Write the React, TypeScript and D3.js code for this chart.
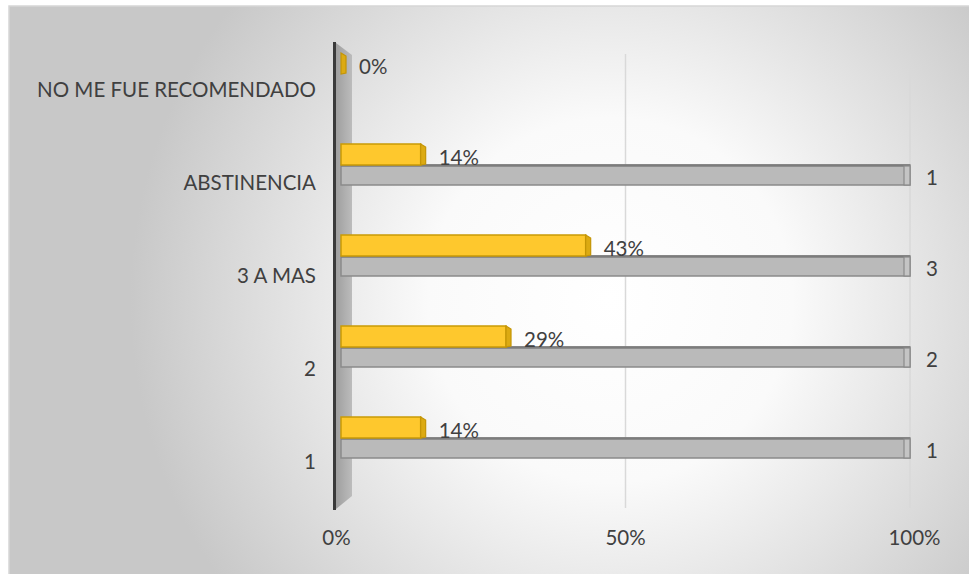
import React from "react";
import * as d3 from "d3";

const categories = ["1", "2", "3 A MAS", "ABSTINENCIA", "NO ME FUE RECOMENDADO"];
const percentValues = [0.14, 0.29, 0.43, 0.14, 0];
const percentLabels = ["14%", "29%", "43%", "14%", "0%"];
const countValues = [1, 2, 3, 1, 0];
const xTicks = [0, 0.5, 1];

const W = 969;
const H = 574;
const FONT = "Lato, 'Liberation Sans', sans-serif";
const FS = 20.5;
const TXT = "#404040";

export default function App() {
  const x = d3.scaleLinear().domain([0, 1]).range([341, 910]);
  const yBar = d3.scalePoint<string>().domain(categories).range([438, 74]);
  const yLab = d3.scalePoint<string>().domain(categories).range([462, 90]);
  const tickFmt = d3.format(".0%");

  return (
    <svg
      width={W}
      height={H}
      style={{ position: "absolute", left: 0, top: 0, display: "block" }}
    >
      <defs>
        <radialGradient id="bg" gradientUnits="userSpaceOnUse" cx={610} cy={300} r={480}>
          <stop offset="0" stopColor="#ffffff" />
          <stop offset="0.38" stopColor="#fafafa" />
          <stop offset="1" stopColor="#c8c8c8" />
        </radialGradient>
        <linearGradient id="wall" x1="0" x2="1" y1="0" y2="0">
          <stop offset="0" stopColor="#9f9f9f" />
          <stop offset="1" stopColor="#bcbcbc" />
        </linearGradient>
      </defs>
      <rect x={0} y={0} width={W} height={H} fill="#ffffff" />
      <rect x={9} y={6} width={W + 10} height={H + 10} fill="url(#bg)" stroke="#d6d6d6" strokeWidth={1.5} />

      {/* gridlines */}
      {xTicks.slice(1).map((t) => (
        <line key={t} x1={x(t)} x2={x(t)} y1={54} y2={508} stroke="#d9d9d9" strokeWidth={1.5} />
      ))}

      {/* wall */}
      <polygon points="336,43 352,55 352,496 336,509" fill="url(#wall)" />
      <line x1={334.5} x2={334.5} y1={42} y2={510} stroke="#3a3a3a" strokeWidth={3} />

      {/* bars */}
      {categories.map((c, i) => {
        const b = yBar(c)!;
        const gv = Math.min(countValues[i], 1);
        const xe = x(gv);
        const ye = x(percentValues[i]);
        return (
          <g key={c}>
            {countValues[i] > 0 && (
              <g>
                <rect x={x(0)} y={b} width={xe - x(0)} height={20} fill="#bababa" stroke="#8a8a8a" strokeWidth={1.5} />
                <line x1={x(0)} x2={xe} y1={b + 0.5} y2={b + 0.5} stroke="#7c7c7c" strokeWidth={2.5} />
                <rect x={xe - 6} y={b + 1} width={6} height={19} fill="#c4c4c4" stroke="#8a8a8a" strokeWidth={1.2} />
                <text x={xe + 16} y={b + 13} dy="0.35em" fontFamily={FONT} fontSize={FS} fill={TXT}>
                  {countValues[i]}
                </text>
              </g>
            )}
            {ye > x(0) && (
              <rect x={x(0)} y={b - 21} width={ye - x(0)} height={21} fill="#fec82d" stroke="#c99a06" strokeWidth={1.5} />
            )}
            <polygon
              points={`${ye},${b - 21} ${ye + 5},${b - 18} ${ye + 5},${b - 1} ${ye},${b}`}
              fill="#dcaa12"
              stroke="#c49506"
              strokeWidth={1.2}
            />
            <text x={ye + 18} y={b - 7} dy="0.35em" fontFamily={FONT} fontSize={FS} fill={TXT}>
              {percentLabels[i]}
            </text>
          </g>
        );
      })}

      {/* category labels */}
      {categories.map((c) => (
        <text key={c} x={316} y={yLab(c)!} dy="0.35em" textAnchor="end" fontFamily={FONT} fontSize={FS} fill={TXT}>
          {c}
        </text>
      ))}

      {/* x tick labels */}
      {xTicks.map((t) => (
        <text key={t} x={x(t) + (t - 0.5) * 9} y={538} dy="0.35em" textAnchor="middle" fontFamily={FONT} fontSize={FS} fill={TXT}>
          {tickFmt(t)}
        </text>
      ))}
    </svg>
  );
}
